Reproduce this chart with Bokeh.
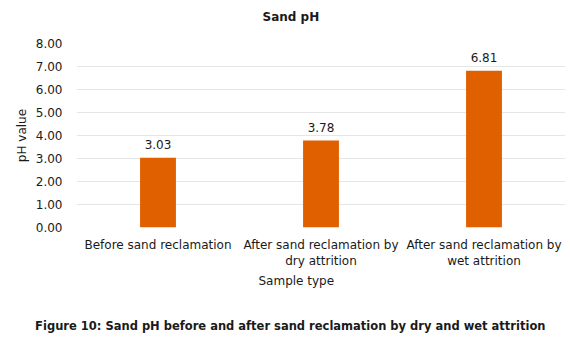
from bokeh.plotting import figure
from bokeh.models import Title, Range1d, FixedTicker, NumeralTickFormatter
from bokeh.core.properties import value
from bokeh.embed import file_html
from bokeh.resources import INLINE

categories = ["Before sand reclamation",
              "After sand reclamation by\ndry attrition",
              "After sand reclamation by\nwet attrition"]
ph_values = [3.03, 3.78, 6.81]
value_labels = ["3.03", "3.78", "6.81"]
y_ticks = [0, 1, 2, 3, 4, 5, 6, 7, 8]

FONT = "DejaVu Sans"
TXT = "#1a1a1a"

p = figure(x_range=categories, y_range=Range1d(0, 8), width=570, height=350,
           output_backend="svg", toolbar_location=None, title=None,
           min_border_left=76, min_border_right=5, min_border_top=43,
           min_border_bottom=123)
p.outline_line_color = None
p.xgrid.grid_line_color = None
p.ygrid.grid_line_color = "#E6E6E6"
p.ygrid.ticker = FixedTicker(ticks=y_ticks)

p.vbar(x=categories, top=ph_values, width=0.22, color="#E06000", line_color=None)
p.text(x=categories, y=ph_values, text=value_labels, text_align="center",
       text_baseline="middle", y_offset=-13, text_font=value(FONT),
       text_font_size="12px", text_color=TXT)

ya = p.yaxis[0]
ya.ticker = FixedTicker(ticks=y_ticks)
ya.formatter = NumeralTickFormatter(format="0.00")
ya.axis_line_color = None
ya.major_tick_line_color = None
ya.minor_tick_line_color = None
ya.major_label_standoff = 8
ya.major_label_text_font = FONT
ya.major_label_text_font_size = "12px"
ya.major_label_text_color = TXT
ya.axis_label = "pH value"
ya.axis_label_text_font = FONT
ya.axis_label_text_font_size = "12px"
ya.axis_label_text_font_style = "normal"
ya.axis_label_text_color = TXT
ya.axis_label_standoff = 4

xa = p.xaxis[0]
xa.axis_line_color = None
xa.major_tick_line_color = None
xa.minor_tick_line_color = None
xa.major_label_standoff = 4
xa.major_label_text_font = FONT
xa.major_label_text_font_size = "12px"
xa.major_label_text_color = TXT

# spacer between frame and chart title
p.add_layout(Title(text=" ", text_font_size="1px", standoff=15), "above")
p.add_layout(Title(text="Sand pH", align="left", offset=186, standoff=4,
                   text_font=FONT, text_font_size="12px", text_font_style="bold",
                   text_color=TXT), "above")
p.add_layout(Title(text="Sample type", align="left", offset=182, standoff=1,
                   text_font=FONT, text_font_size="12px", text_font_style="normal",
                   text_color=TXT), "below")
# spacer between axis title and figure caption
p.add_layout(Title(text=" ", text_font_size="1px", standoff=23), "below")
p.add_layout(Title(text="Figure 10: Sand pH before and after sand reclamation by dry and wet attrition",
                   align="right", offset=20, standoff=4,
                   text_font=FONT, text_font_size="11.5px", text_font_style="bold",
                   text_color=TXT), "below")

open("out.html", "w").write(file_html(p, INLINE))
